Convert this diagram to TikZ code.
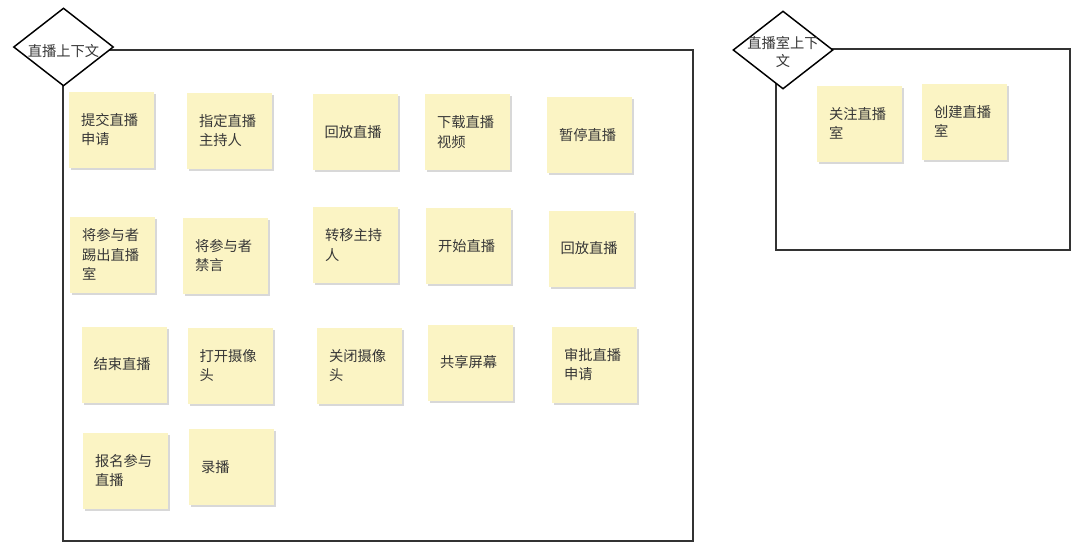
\documentclass[tikz,border=0pt]{standalone}
\usepackage{fontspec}
\setmainfont{Noto Sans CJK SC}
\usepackage{xcolor}
\usetikzlibrary{shapes.geometric, shadows}
\definecolor{stickyyellow}{RGB}{251,244,196}
\definecolor{framegray}{RGB}{51,51,51}
\definecolor{textgray}{RGB}{55,55,55}

\begin{document}
\begin{tikzpicture}[x=0.75pt, y=-0.75pt,
    sticky/.style={rectangle, fill=stickyyellow, minimum width=85*0.75pt, minimum height=76*0.75pt,
        inner sep=0pt, text width=4.55em, align=left, text=textgray,
        font=\fontsize{10.7}{14.5}\selectfont,
        drop shadow={shadow xshift=1.5pt, shadow yshift=-1.5pt, fill=black!30, opacity=0.5}},
    ctx/.style={diamond, draw=black, line width=1.1pt, fill=white, inner sep=0pt,
        minimum width=100*0.75pt, minimum height=78*0.75pt},
    ctxtext/.style={text=textgray, align=center, inner sep=0pt, font=\fontsize{10.7}{13.5}\selectfont},
    frame/.style={draw=framegray, line width=1.5pt}]
            \useasboundingbox[fill=white] (0,0) rectangle (1080,558);

            \draw[frame] (63,50) rectangle (693,541);
            \draw[frame] (776,49) rectangle (1070,250);

            \node[ctx] (ctx1) at (63.5,47) {};
            \node[ctxtext] (ctx1t) at (63.5,51) {直播上下文};
            \node[ctx] (ctx2) at (783,50) {};
            \node[ctxtext] (ctx2t) at (783,52) {直播室上下\\文};

            \node[sticky] (submit) at (111.5,129.5) {提交直播\\申请};
            \node[sticky] (assignhost) at (229.5,130.5) {指定直播\\主持人};
            \node[sticky] (replayA) at (355,132) {回放直播};
            \node[sticky] (download) at (467.5,132) {下载直播\\视频};
            \node[sticky] (pause) at (589.5,135) {暂停直播};

            \node[sticky] (kick) at (112.5,254.5) {将参与者\\踢出直播\\室};
            \node[sticky] (mute) at (225.5,255.5) {将参与者\\禁言};
            \node[sticky] (transfer) at (355.5,245) {转移主持\\人};
            \node[sticky] (start) at (468.5,246) {开始直播};
            \node[sticky] (replayB) at (591,248.5) {回放直播};

            \node[sticky] (finish) at (124,364.5) {结束直播};
            \node[sticky] (camon) at (230,365.5) {打开摄像\\头};
            \node[sticky] (camoff) at (359.5,365.5) {关闭摄像\\头};
            \node[sticky] (share) at (470.5,362.5) {共享屏幕};
            \node[sticky] (approve) at (594.5,364.5) {审批直播\\申请};

            \node[sticky] (enroll) at (125.5,470.5) {报名参与\\直播};
            \node[sticky] (record) at (231.5,467) {录播};

            \node[sticky] (follow) at (859.5,123.5) {关注直播\\室};
            \node[sticky] (create) at (964.5,121.5) {创建直播\\室};
        \end{tikzpicture}
\end{document}
